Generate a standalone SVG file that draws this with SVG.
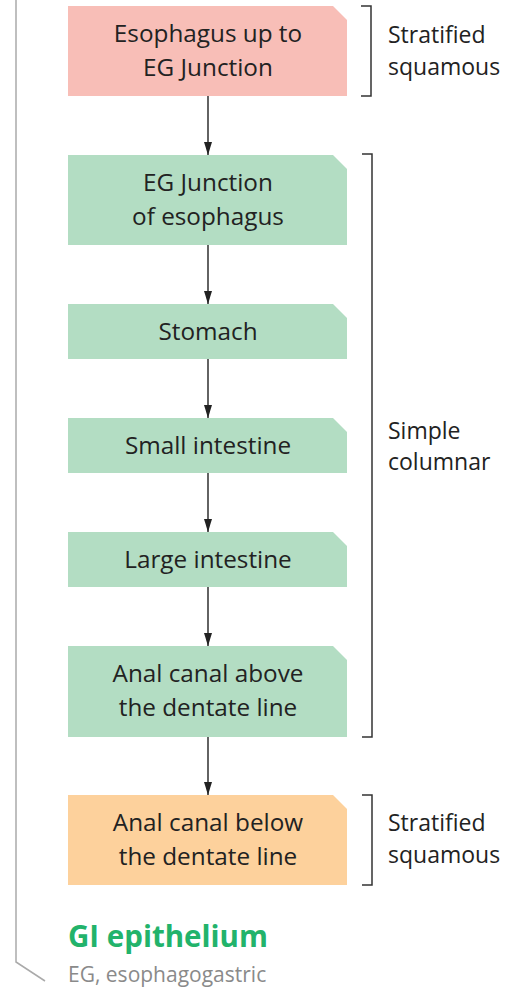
<svg xmlns="http://www.w3.org/2000/svg" width="525" height="987" viewBox="0 0 525 987">
<defs>
<marker id="ah" markerWidth="13" markerHeight="8" refX="13" refY="4" orient="auto" markerUnits="userSpaceOnUse" viewBox="0 0 13 8">
<path d="M0,0 L13,4 L0,8 Z" fill="#222"/>
</marker>
<style>
.box text, .lbl{font-family:"Open Sans","Liberation Sans",sans-serif;font-size:24.3px;fill:#222;}
.lbl{font-size:23px;}
.box text{text-anchor:middle;}
.pink{fill:#F8BEB7;}
.green{fill:#B3DDC3;}
.orange{fill:#FDD19C;}
.conn line{stroke:#222;stroke-width:1.4;}
.br{fill:none;stroke:#333;stroke-width:1.5;}
</style>
</defs>
<rect width="525" height="987" fill="#fff"/>
<polyline points="16,0 16,962 45,981" fill="none" stroke="#aaa" stroke-width="1.5"/>

<g id="n1" class="box"><path class="pink" d="M68,6 H333 L347,20 V96 H68 Z"/><text x="208" y="42">Esophagus up to</text><text x="208" y="76">EG Junction</text></g>
<g id="n2" class="box"><path class="green" d="M68,155 H333 L347,169 V245 H68 Z"/><text x="208" y="191">EG Junction</text><text x="208" y="225">of esophagus</text></g>
<g id="n3" class="box"><path class="green" d="M68,304 H333 L347,318 V359 H68 Z"/><text x="208" y="340">Stomach</text></g>
<g id="n4" class="box"><path class="green" d="M68,418 H333 L347,432 V473 H68 Z"/><text x="208" y="454">Small intestine</text></g>
<g id="n5" class="box"><path class="green" d="M68,532 H333 L347,546 V587 H68 Z"/><text x="208" y="568">Large intestine</text></g>
<g id="n6" class="box"><path class="green" d="M68,646 H333 L347,660 V737 H68 Z"/><text x="208" y="682">Anal canal above</text><text x="208" y="716">the dentate line</text></g>
<g id="n7" class="box"><path class="orange" d="M68,795 H333 L347,809 V885 H68 Z"/><text x="208" y="831">Anal canal below</text><text x="208" y="865">the dentate line</text></g>

<g id="connectors" class="conn">
<line x1="208" y1="96" x2="208" y2="155" marker-end="url(#ah)"/>
<line x1="208" y1="245" x2="208" y2="304" marker-end="url(#ah)"/>
<line x1="208" y1="359" x2="208" y2="418" marker-end="url(#ah)"/>
<line x1="208" y1="473" x2="208" y2="532" marker-end="url(#ah)"/>
<line x1="208" y1="587" x2="208" y2="646" marker-end="url(#ah)"/>
<line x1="208" y1="737" x2="208" y2="795" marker-end="url(#ah)"/>
</g>

<g id="brackets">
<polyline class="br" points="361,6 371,6 371,96 361,96"/>
<polyline class="br" points="362,154 372,154 372,737 362,737"/>
<polyline class="br" points="362,795 372,795 372,885 362,885"/>
</g>
<g id="labels">
<text class="lbl" x="388" y="43">Stratified</text>
<text class="lbl" x="388" y="74.5">squamous</text>
<text class="lbl" x="388" y="438.5">Simple</text>
<text class="lbl" x="388" y="470">columnar</text>
<text class="lbl" x="388" y="831">Stratified</text>
<text class="lbl" x="388" y="862.5">squamous</text>
</g>
<text x="68" y="947" font-family="'Open Sans','Liberation Sans',sans-serif" font-weight="bold" font-size="29.5" fill="#22B36B">GI epithelium</text>
<text x="68" y="982" font-family="'Open Sans','Liberation Sans',sans-serif" font-size="21" fill="#8a8a8a">EG, esophagogastric</text>
</svg>
